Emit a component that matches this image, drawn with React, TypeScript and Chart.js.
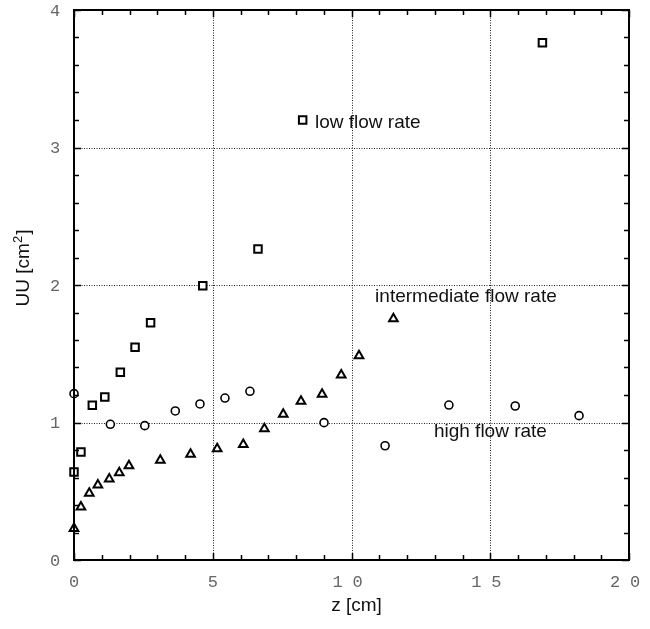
import React, { useEffect, useRef } from 'react';
import { Chart, registerables } from 'chart.js';

Chart.register(...registerables);

// ---- data ----
const lowZ = [0, 0.25, 0.66, 1.11, 1.67, 2.2, 2.76, 4.64, 6.63, 8.24, 16.88];
const lowUU = [0.64, 0.785, 1.125, 1.185, 1.365, 1.547, 1.726, 1.995, 2.262, 3.2, 3.762];

const intZ = [0, 0.25, 0.55, 0.86, 1.27, 1.63, 1.98, 3.11, 4.2, 5.16, 6.1, 6.86, 7.54, 8.18, 8.94, 9.63, 10.27, 11.51];
const intUU = [0.23, 0.385, 0.485, 0.545, 0.59, 0.635, 0.685, 0.725, 0.77, 0.81, 0.84, 0.955, 1.06, 1.155, 1.205, 1.345, 1.485, 1.755];

const highZ = [0, 1.31, 2.55, 3.65, 4.54, 5.44, 6.34, 9.01, 11.21, 13.51, 15.9, 18.2];
const highUU = [1.21, 0.987, 0.977, 1.084, 1.135, 1.178, 1.227, 0.999, 0.831, 1.127, 1.12, 1.05];

const xTicks = [0, 5, 10, 15, 20];
const yTicks = [0, 1, 2, 3, 4];
const xTickLabels = ['0', '5', '10', '15', '20'];
const yTickLabels = ['0', '1', '2', '3', '4'];

const seriesNames = ['low flow rate', 'intermediate flow rate', 'high flow rate'];
const nameZ = [8.685, 10.85, 12.97];
const nameUU = [3.142, 1.876, 0.895];

const xTitle = 'z [cm]';
const yTitleMain = 'UU [cm';
const yTitleSup = '2';
const yTitleEnd = ']';

const X_MIN = 0, X_MAX = 20, Y_MIN = 0, Y_MAX = 4;

const framePlugin = {
  id: 'frame',
  beforeDatasetsDraw(chart: any) {
    const { ctx, chartArea: a, scales } = chart;
    const x = scales.x, y = scales.y;
    ctx.save();
    // dotted grid
    ctx.strokeStyle = '#222';
    ctx.lineWidth = 1;
    ctx.setLineDash([1, 1.5]);
    xTicks.forEach((v) => {
      if (v <= X_MIN || v >= X_MAX) return;
      const px = Math.round(x.getPixelForValue(v)) + 0.5;
      ctx.beginPath();
      ctx.moveTo(px, a.top);
      ctx.lineTo(px, a.bottom);
      ctx.stroke();
    });
    yTicks.forEach((v) => {
      if (v <= Y_MIN || v >= Y_MAX) return;
      const py = Math.round(y.getPixelForValue(v)) + 0.5;
      ctx.beginPath();
      ctx.moveTo(a.left, py);
      ctx.lineTo(a.right, py);
      ctx.stroke();
    });
    ctx.setLineDash([]);

    // tick labels
    ctx.fillStyle = '#666';
    ctx.font = '17px "Liberation Mono", "DejaVu Sans Mono", monospace';
    ctx.textAlign = 'center';
    ctx.textBaseline = 'middle';
    xTicks.forEach((v, i) => {
      const s = xTickLabels[i];
      const cx = x.getPixelForValue(v);
      if (s.length === 1) {
        ctx.fillText(s, cx, a.bottom + 22);
      } else {
        for (let k = 0; k < s.length; k++) {
          ctx.fillText(s[k], cx - 14 + k * 20, a.bottom + 22);
        }
      }
    });
    yTicks.forEach((v, i) => {
      const s = yTickLabels[i];
      const cy = y.getPixelForValue(v);
      ctx.fillText(s, 55, cy + 1);
    });
    ctx.restore();
  },
  afterDatasetsDraw(chart: any) {
    const { ctx, chartArea: a, scales } = chart;
    const x = scales.x, y = scales.y;
    ctx.save();
    // inward ticks on all four sides
    ctx.strokeStyle = '#000';
    ctx.lineWidth = 1.5;
    for (let i = 0; i <= 20; i++) {
      const v = X_MIN + i;
      const px = Math.round(x.getPixelForValue(v)) + 0.5;
      const len = i % 5 === 0 ? 7 : 5;
      ctx.beginPath();
      ctx.moveTo(px, a.bottom);
      ctx.lineTo(px, a.bottom - len);
      ctx.moveTo(px, a.top);
      ctx.lineTo(px, a.top + len);
      ctx.stroke();
    }
    for (let i = 0; i <= 20; i++) {
      const v = Y_MIN + i * 0.2;
      const py = Math.round(y.getPixelForValue(v)) + 0.5;
      const len = i % 5 === 0 ? 7 : 5;
      ctx.beginPath();
      ctx.moveTo(a.left, py);
      ctx.lineTo(a.left + len, py);
      ctx.moveTo(a.right, py);
      ctx.lineTo(a.right - len, py);
      ctx.stroke();
    }
    // frame
    ctx.lineWidth = 2;
    ctx.strokeRect(a.left, a.top, a.right - a.left, a.bottom - a.top);

    // series annotations
    ctx.fillStyle = '#111';
    ctx.font = '19px "Liberation Sans", Arial, sans-serif';
    ctx.textAlign = 'left';
    ctx.textBaseline = 'alphabetic';
    seriesNames.forEach((n, i) => {
      ctx.fillText(n, x.getPixelForValue(nameZ[i]), y.getPixelForValue(nameUU[i]));
    });

    // x title
    ctx.textAlign = 'center';
    ctx.fillText(xTitle, (a.left + a.right) / 2 + 5, 611);

    // y title with superscript
    ctx.translate(29, 268);
    ctx.rotate(-Math.PI / 2);
    ctx.textAlign = 'left';
    const big = '19px "Liberation Sans", Arial, sans-serif';
    const small = '13px "Liberation Sans", Arial, sans-serif';
    ctx.font = big;
    const w1 = ctx.measureText(yTitleMain).width;
    const w3 = ctx.measureText(yTitleEnd).width;
    ctx.font = small;
    const w2 = ctx.measureText(yTitleSup).width;
    const total = w1 + w2 + w3 + 1;
    let sx = -total / 2;
    ctx.font = big;
    ctx.fillText(yTitleMain, sx, 0);
    sx += w1;
    ctx.font = small;
    ctx.fillText(yTitleSup, sx, -7);
    sx += w2 + 1;
    ctx.font = big;
    ctx.fillText(yTitleEnd, sx, 0);
    ctx.restore();
  },
};

function toPoints(xs: number[], ys: number[]) {
  return xs.map((v, i) => ({ x: v, y: ys[i] }));
}

export default function App() {
  const ref = useRef<HTMLCanvasElement | null>(null);
  useEffect(() => {
    if (!ref.current) return;
    const chart = new Chart(ref.current, {
      type: 'scatter',
      data: {
        datasets: [
          {
            label: seriesNames[0],
            data: toPoints(lowZ, lowUU),
            pointStyle: 'rect',
            pointRadius: 5.3,
            borderColor: '#000',
            backgroundColor: '#fff',
            borderWidth: 2,
          },
          {
            label: seriesNames[1],
            data: toPoints(intZ, intUU),
            pointStyle: 'triangle',
            pointRadius: 5,
            borderColor: '#000',
            backgroundColor: '#fff',
            borderWidth: 2,
          },
          {
            label: seriesNames[2],
            data: toPoints(highZ, highUU),
            pointStyle: 'circle',
            pointRadius: 4,
            borderColor: '#000',
            backgroundColor: '#fff',
            borderWidth: 1.6,
          },
        ],
      },
      plugins: [framePlugin],
      options: {
        animation: false,
        responsive: false,
        clip: false as any,
        layout: { padding: { left: 0, right: 21, top: 10, bottom: 0 } },
        plugins: { legend: { display: false }, tooltip: { enabled: false } },
        scales: {
          x: {
            type: 'linear',
            min: X_MIN,
            max: X_MAX,
            grid: { display: false },
            border: { display: false },
            ticks: { display: false },
            afterFit: (s: any) => { s.height = 69; },
          },
          y: {
            type: 'linear',
            min: Y_MIN,
            max: Y_MAX,
            grid: { display: false },
            border: { display: false },
            ticks: { display: false },
            afterFit: (s: any) => { s.width = 74; },
          },
        },
      },
    });
    return () => chart.destroy();
  }, []);
  return (
    <div style={{ position: 'absolute', left: 0, top: 0, width: 650, height: 629, background: '#fff' }}>
      <canvas ref={ref} width={650} height={629} />
    </div>
  );
}
